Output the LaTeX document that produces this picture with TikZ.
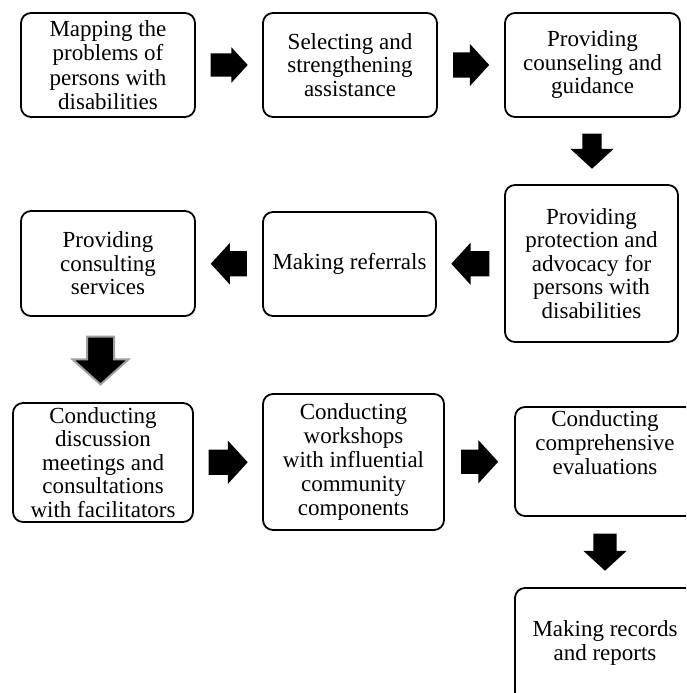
\documentclass[tikz,border=0pt]{standalone}
\usepackage{fontspec}
\setmainfont{Liberation Serif}
\usetikzlibrary{shapes.arrows,calc}
\begin{document}
\begin{tikzpicture}[x=1pt,y=-1pt,
  box/.style={draw, line width=1.8pt, rounded corners=10pt, align=center, inner sep=0pt,
              font=\fontsize{23}{23.5}\selectfont},
  txt/.style={align=center, inner sep=0pt, font=\fontsize{23}{24}\selectfont},
  blk/.style={single arrow, fill=black, draw=none, inner xsep=0pt, inner ysep=12.5pt,
              single arrow tip angle=95, anchor=tail,
              minimum height=37pt, single arrow head extend=8.5pt},
  blkdown/.style={blk, shape border rotate=270, inner ysep=0pt, inner xsep=#1},
]
\useasboundingbox (0,0) rectangle (686,693);
\clip (0,0) rectangle (686,693);

% row 1
\node[box, minimum width=174pt, minimum height=104pt, font=\fontsize{23}{24.5}\selectfont] (b1) at (108,65)
  {Mapping the\\problems of\\persons with\\disabilities};
\node[box, minimum width=174pt, minimum height=104pt] (b2) at (350,65)
  {Selecting and\\strengthening\\assistance};
\node[box, minimum width=175pt, minimum height=104pt] (b3) at (592.5,65)
  {Providing\\counseling and\\guidance};

% row 2
\node[box, minimum width=173pt, minimum height=157pt] (b4) at (591.5,263.5)
  {Providing\\protection and\\advocacy for\\persons with\\disabilities};
\node[box, minimum width=173pt, minimum height=104pt] (b5) at (349.5,264)
  {Making referrals};
\node[box, minimum width=174pt, minimum height=105pt] (b6) at (108,263.5)
  {Providing\\consulting\\services};

% row 3
\node[box, minimum width=180pt, minimum height=119pt] (b7) at (103,462.5)
  {Conducting\\discussion\\meetings and\\consultations\\with facilitators};
\node[box, minimum width=181pt, minimum height=136pt, font=\fontsize{23}{24}\selectfont] (b8) at (353.5,462)
  {Conducting\\workshops\\with influential\\community\\components};
\node[box, minimum width=180pt, minimum height=109pt] (b9) at (605,461.5) {};
\node[txt, anchor=north] (t9) at ([yshift=-4pt]b9.north)
  {Conducting\\comprehensive\\evaluations};

% row 4
\node[box, minimum width=180pt, minimum height=114pt] (b10) at (605,645) {};
\node[txt, anchor=north] (t10) at ([yshift=-33pt]b10.north)
  {Making records\\and reports};

% block arrows (placed by their tail)
\node[blk, inner ysep=11.5pt, single arrow head extend=6pt] (a1)
  at ($($(b1.east)!0.5!(b2.west)$)+(-18.5,0)$) {};
\node[blk, minimum height=36pt] (a2)
  at ($($(b2.east)!0.5!(b3.west)$)+(-18,0)$) {};
\node[blkdown=9.5pt, minimum height=35pt, single arrow head extend=12pt] (a3)
  at ($($(b3.south)!0.5!(b4.north)$)+(0,-17.5)$) {};
\node[blk, shape border rotate=180, minimum height=38pt] (a4)
  at ($($(b4.west)!0.5!(b5.east)$)+(19,0)$) {};
\node[blk, shape border rotate=180, minimum height=36pt, single arrow head extend=8pt] (a5)
  at ($($(b5.west)!0.5!(b6.east)$)+(18,0)$) {};
\node[blkdown=12.5pt, minimum height=48pt, single arrow head extend=14.5pt,
      draw=gray!75, line width=2pt, single arrow tip angle=96] (a6)
  at ($($(b6.south)!0.5!(b7.north)$)+(-5,-24)$) {};
\node[blk, minimum height=39pt, single arrow head extend=9pt] (a7)
  at ($($(b7.east)!0.5!(b8.west)$)+(-19.5,0)$) {};
\node[blk, inner ysep=12pt, single arrow head extend=9.5pt] (a8)
  at ($($(b8.east)!0.5!(b9.west)$)+(-18.5,0)$) {};
\node[blkdown=11.5pt, single arrow head extend=10pt] (a9)
  at ($($(b9.south)!0.5!(b10.north)$)+(0,-18.5)$) {};
\end{tikzpicture}
\end{document}
